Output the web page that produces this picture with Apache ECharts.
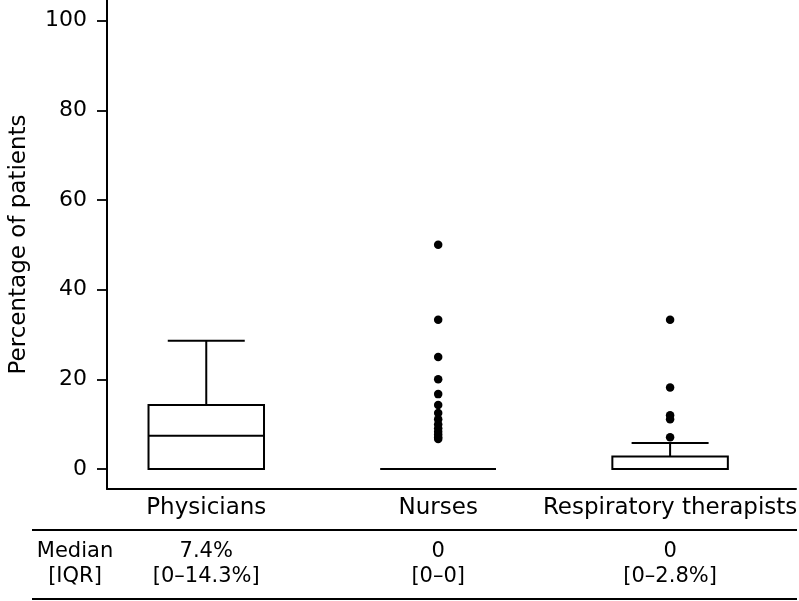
<!DOCTYPE html>
<html>
<head>
<meta charset="utf-8">
<script src="https://cdn.jsdelivr.net/npm/echarts@6/dist/echarts.min.js"></script>
<style>
html,body{margin:0;padding:0;background:#fff;}
#main{width:799px;height:601px;}
</style>
</head>
<body>
<div id="main"></div>
<script>
// ---- data ----
var categories = ['Physicians', 'Nurses', 'Respiratory therapists'];
var categoryPos = [1, 2, 3];
// [position, lowerWhisker, Q1, median, Q3, upperWhisker]
var boxStats = [
  [1, 0, 0, 7.4, 14.3, 28.6],
  [2, 0, 0, 0, 0, 0],
  [3, 0, 0, 0, 2.8, 5.8]
];
var nurseOutliers = [50, 33.3, 25, 20, 16.7, 14.3, 12.5, 11.1, 10, 9.1, 8.3, 7.7, 7.1, 6.7];
var rtOutliers = [33.3, 18.2, 12, 11.1, 7.1];
var yTicks = [0, 20, 40, 60, 80, 100];
var tableRowLabel = ['Median', '[IQR]'];
var medians = ['7.4%', '0', '0'];
var iqrs = ['[0–14.3%]', '[0–0]', '[0–2.8%]'];

var outlierData = [];
nurseOutliers.forEach(function (v) { outlierData.push([2, v]); });
rtOutliers.forEach(function (v) { outlierData.push([3, v]); });

var FONT = '"DejaVu Sans", Arial, sans-serif';
var chart = echarts.init(document.getElementById('main'), null, {renderer: 'canvas'});

var BOX_HALF = 0.249, CAP_HALF = 0.166, LW = 2;
function renderBox(params, api) {
  var x = api.value(0);
  var lo = api.value(1), q1 = api.value(2), med = api.value(3), q3 = api.value(4), hi = api.value(5);
  var pL = api.coord([x - BOX_HALF, q3]);
  var pR = api.coord([x + BOX_HALF, q1]);
  var pMedL = api.coord([x - BOX_HALF, med]);
  var pMedR = api.coord([x + BOX_HALF, med]);
  var pHi = api.coord([x, hi]);
  var pQ3 = api.coord([x, q3]);
  var pLo = api.coord([x, lo]);
  var pQ1 = api.coord([x, q1]);
  var capL = api.coord([x - CAP_HALF, hi]);
  var capR = api.coord([x + CAP_HALF, hi]);
  var capLL = api.coord([x - CAP_HALF, lo]);
  var capLR = api.coord([x + CAP_HALF, lo]);
  var st = {stroke: '#000', lineWidth: LW, fill: null};
  var children = [];
  children.push({type: 'rect', shape: {x: pL[0], y: pL[1], width: pR[0] - pL[0], height: pR[1] - pL[1]}, style: {stroke: '#000', lineWidth: LW, fill: 'none'}});
  children.push({type: 'line', shape: {x1: pMedL[0], y1: pMedL[1], x2: pMedR[0], y2: pMedR[1]}, style: st});
  if (hi > q3) {
    children.push({type: 'line', shape: {x1: pHi[0], y1: pHi[1], x2: pQ3[0], y2: pQ3[1]}, style: st});
    children.push({type: 'line', shape: {x1: capL[0], y1: capL[1], x2: capR[0], y2: capR[1]}, style: st});
  }
  if (lo < q1) {
    children.push({type: 'line', shape: {x1: pLo[0], y1: pLo[1], x2: pQ1[0], y2: pQ1[1]}, style: st});
    children.push({type: 'line', shape: {x1: capLL[0], y1: capLL[1], x2: capLR[0], y2: capLR[1]}, style: st});
  }
  return {type: 'group', children: children};
}

chart.setOption({
  backgroundColor: '#fff',
  animation: false,
  grid: {left: 100, right: 0, top: 0, bottom: 112, containLabel: false},
  xAxis: {
    type: 'value', min: 0.572, max: 3.543,
    axisLine: {show: true, onZero: false, lineStyle: {color: '#000', width: 2}},
    axisTick: {show: false},
    axisLabel: {
      customValues: categoryPos, margin: 8, fontFamily: FONT, fontSize: 23, color: '#000',
      formatter: function (v) { return categories[Math.round(v) - 1] || ''; }
    },
    splitLine: {show: false}
  },
  yAxis: {
    type: 'value', min: -4.46, max: 104.6,
    name: 'Percentage of patients', nameLocation: 'middle', nameGap: 76,
    nameTextStyle: {fontFamily: FONT, fontSize: 23, color: '#000'},
    axisLine: {show: true, lineStyle: {color: '#000', width: 2}},
    axisTick: {show: true, length: 10, customValues: yTicks, lineStyle: {color: '#000', width: 1.8}},
    axisLabel: {customValues: yTicks, margin: 20, fontFamily: FONT, fontSize: 22, color: '#000'},
    splitLine: {show: false}
  },
  series: [
    {type: 'custom', renderItem: renderBox, data: boxStats, encode: {x: 0, y: [1, 2, 3, 4, 5]}, silent: true},
    {type: 'scatter', data: outlierData, symbol: 'circle', symbolSize: 8.5, itemStyle: {color: '#000', opacity: 1}, silent: true}
  ]
});

// table below the chart, columns aligned to the category positions
var graphics = [];
categories.forEach(function (c, i) {
  var px = chart.convertToPixel({gridIndex: 0}, [categoryPos[i], 0])[0];
  graphics.push({type: 'text', x: px, y: 552, style: {text: medians[i], font: '21px ' + FONT, fill: '#000', textAlign: 'center', textVerticalAlign: 'middle'}});
  graphics.push({type: 'text', x: px, y: 577, style: {text: iqrs[i], font: '21px ' + FONT, fill: '#000', textAlign: 'center', textVerticalAlign: 'middle'}});
});
tableRowLabel.forEach(function (t, i) {
  graphics.push({type: 'text', x: 75, y: 552 + i * 25, style: {text: t, font: '21px ' + FONT, fill: '#000', textAlign: 'center', textVerticalAlign: 'middle'}});
});
graphics.push({type: 'line', shape: {x1: 32, y1: 530, x2: 797, y2: 530}, style: {stroke: '#000', lineWidth: 2}});
graphics.push({type: 'line', shape: {x1: 32, y1: 599, x2: 797, y2: 599}, style: {stroke: '#000', lineWidth: 2}});
chart.setOption({graphic: graphics});
</script>
</body>
</html>
